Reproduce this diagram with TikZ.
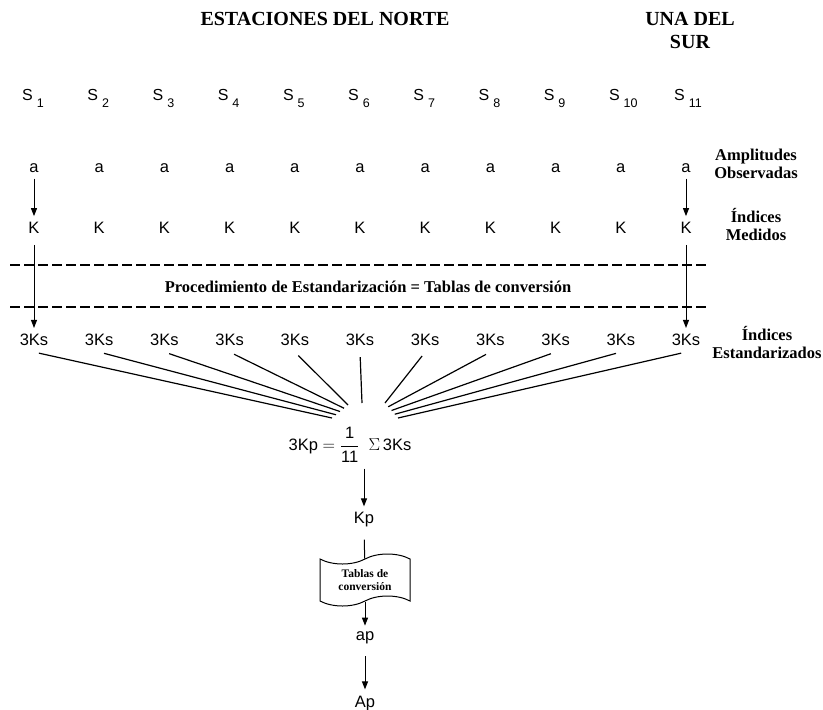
\documentclass[tikz,border=0pt]{standalone}
\usepackage{amsmath}
\usepackage{fontspec}
\setmainfont{Liberation Serif}
\setsansfont{Liberation Sans}
\usepackage{tikz}
\usetikzlibrary{arrows.meta,positioning,shapes.symbols}
\tikzset{
    title/.style={font=\bfseries\fontsize{20}{23}\selectfont, align=center},
    sidelabel/.style={font=\bfseries\fontsize{16.5}{18}\selectfont, align=center},
    value/.style={font=\sffamily\fontsize{16.5}{18}\selectfont, inner sep=6pt},
    station/.style={font=\sffamily\fontsize{16}{18}\selectfont, inner sep=0pt, anchor=base west},
    flow/.style={-{Triangle[length=8pt,width=6pt]}, line width=1pt},
    fan/.style={line width=1.2pt, shorten <=5pt},
    dashline/.style={line width=2.4pt, dash pattern=on 10pt off 4pt},
    doc/.style={tape, draw, line width=1pt, minimum width=90pt, minimum height=52pt,
        tape bend height=10pt, align=center, font=\bfseries\fontsize{11.5}{13}\selectfont}
}
\begin{document}
\begin{tikzpicture}[x=1pt,y=-1pt]
    \useasboundingbox (0,0) rectangle (823,710);
    \node[title] (norte) at (325,19) {ESTACIONES DEL NORTE};
    \node[title] (sur) at (690,30) {UNA DEL\\SUR};
    % one column per station
    \foreach \i in {1,...,11} {
        \pgfmathsetmacro{\xc}{34+65.2*(\i-1)}
        \node[station] (S\i) at (\xc-12,100) {S\hspace{4pt}\raisebox{-7pt}{\fontsize{12.5}{14}\selectfont\i}};
        \node[value] (a\i) at (\xc,168) {a};
        \node[value] (K\i) at (\xc,228) {K};
        \node[value] (Ks\i) at (\xc,340) {3Ks};
    }
    \node[sidelabel] (amp) at (756,164) {Amplitudes\\Observadas};
    \node[sidelabel] (med) at (756,224) {Índices\\Medidos};
    \node[sidelabel] (est) at (767,342) {Índices\\Estandarizados};
    \draw[dashline] (10,265) -- (706,265);
    \draw[dashline] (10,307) -- (706,307);
    \node[sidelabel] (proc) at (368,287) {Procedimiento de Estandarización = Tablas de conversión};
    \draw[flow] (a1) -- (K1);
    \draw[flow] (a11) -- (K11);
    \draw[flow, shorten <=5pt] (K1) -- (Ks1);
    \draw[flow, shorten <=5pt] (K11) -- (Ks11);
    % fan into the mean
    \foreach \i in {1,...,5}
        \coordinate (f\i) at ({332+4*(\i-1)},{418-3.25*(\i-1)});
    \coordinate (f6) at (362,403);
    \foreach \i in {7,...,11}
        \coordinate (f\i) at ({385+3.25*(\i-7)},{403+3.75*(\i-7)});
    \foreach \i in {1,...,11}
        \draw[fan] (Ks\i.south) -- (f\i);
    \node[value, inner sep=2pt] (prom) at (350,445) {3Kp $=\dfrac{\textsf{1}}{\textsf{11}}$\;\;$\Sigma$\,3Ks};
    \node[value] (Kp) at (364,520) {Kp};
    \node[doc] (tabla) at (365,580) {Tablas de\\conversión};
    \node[value] (ap) at (365,638) {ap};
    \node[value, inner sep=3pt] (Ap) at (365,704) {Ap};
    \draw[flow, shorten <=4pt] (prom.south -| Kp) -- (Kp);
    \draw[line width=1pt, shorten <=6pt] (Kp) -- (tabla);
    \draw[flow] (tabla) -- (ap);
    \draw[flow, shorten <=6pt, shorten >=4pt] (ap) -- (Ap);
\end{tikzpicture}
\end{document}
